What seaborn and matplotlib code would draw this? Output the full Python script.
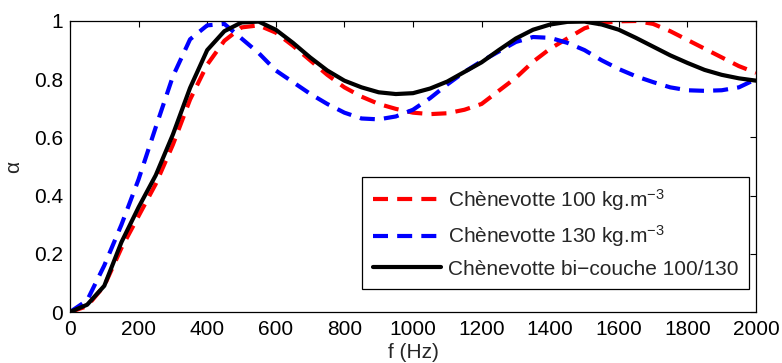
import matplotlib
matplotlib.use("Agg")
import matplotlib.pyplot as plt
import seaborn as sns
import pandas as pd

# frequencies (Hz), 50 Hz step
freq = list(range(0, 2001, 50))

# absorption coefficient
alpha_100 = [0.0, 0.02, 0.09, 0.22, 0.33, 0.44, 0.575, 0.73, 0.85, 0.932, 0.978,
             0.985, 0.96, 0.915, 0.865, 0.815, 0.772, 0.74, 0.715, 0.698, 0.685,
             0.68, 0.683, 0.695, 0.715, 0.76, 0.805, 0.86, 0.905, 0.94, 0.975,
             0.993, 0.999, 1.0, 0.99, 0.965, 0.935, 0.905, 0.875, 0.845, 0.822]
alpha_130 = [0.0, 0.04, 0.16, 0.30, 0.456, 0.635, 0.81, 0.937, 0.985, 0.99, 0.94,
             0.89, 0.83, 0.79, 0.75, 0.715, 0.685, 0.665, 0.662, 0.672, 0.695,
             0.735, 0.782, 0.825, 0.862, 0.895, 0.928, 0.945, 0.942, 0.925, 0.9,
             0.865, 0.835, 0.81, 0.79, 0.772, 0.762, 0.76, 0.762, 0.772, 0.80]
alpha_bi = [0.0, 0.025, 0.09, 0.24, 0.36, 0.47, 0.61, 0.77, 0.90, 0.965, 0.995,
            0.998, 0.97, 0.925, 0.875, 0.83, 0.795, 0.772, 0.755, 0.749, 0.752,
            0.768, 0.792, 0.825, 0.858, 0.9, 0.94, 0.97, 0.988, 0.997, 0.998,
            0.988, 0.97, 0.942, 0.912, 0.882, 0.856, 0.832, 0.815, 0.803, 0.795]

labels = ["Chènevotte 100 kg.m$^{-3}$",
          "Chènevotte 130 kg.m$^{-3}$",
          "Chènevotte bi−couche 100/130"]

sns.set_style("white")
plt.rcParams['font.family'] = ['Liberation Sans', 'DejaVu Sans']
plt.rcParams['mathtext.fontset'] = 'custom'
plt.rcParams['mathtext.rm'] = 'Liberation Sans'
plt.rcParams['mathtext.it'] = 'Liberation Sans:italic'
plt.rcParams['axes.unicode_minus'] = True

df = pd.DataFrame({"f": freq, "a100": alpha_100, "a130": alpha_130, "abi": alpha_bi})

fig = plt.figure(figsize=(7.82, 3.63), dpi=100)
ax = fig.add_axes([70/782, 1-312/363, 686/782, 291/363])

fs = 15
dash = (0, (3.6, 2.2))
sns.lineplot(data=df, x="f", y="a100", ax=ax, color="red", lw=3, linestyle=dash, label=labels[0])
sns.lineplot(data=df, x="f", y="a130", ax=ax, color="blue", lw=3, linestyle=dash, label=labels[1])
sns.lineplot(data=df, x="f", y="abi", ax=ax, color="black", lw=3, linestyle="-", label=labels[2])

ax.set_xlim(0, 2000)
ax.set_ylim(0, 1)
ax.set_xticks(range(0, 2001, 200))
ax.set_yticks([0, 0.2, 0.4, 0.6, 0.8, 1])
ax.set_yticklabels(["0", "0.2", "0.4", "0.6", "0.8", "1"])
ax.tick_params(direction="in", length=4, width=0.8, top=True, right=True,
               labelsize=fs, colors="black")
ax.tick_params(axis="x", pad=6)
ax.tick_params(axis="y", pad=5)
for s in ax.spines.values():
    s.set_color("black")
    s.set_linewidth(0.9)

ax.set_xlabel("f (Hz)", fontsize=fs, labelpad=3)
ax.set_ylabel("α", fontsize=fs, labelpad=8)

leg = ax.legend(loc="lower right", bbox_to_anchor=(0.9898, 0.079), borderaxespad=0,
                fontsize=fs, handlelength=3.3, handletextpad=0.32,
                labelspacing=0.5, fancybox=False, framealpha=1, borderpad=0.5)
leg.get_frame().set_edgecolor("black")
leg.get_frame().set_linewidth(0.9)

fig.savefig("out.png", dpi=100)
